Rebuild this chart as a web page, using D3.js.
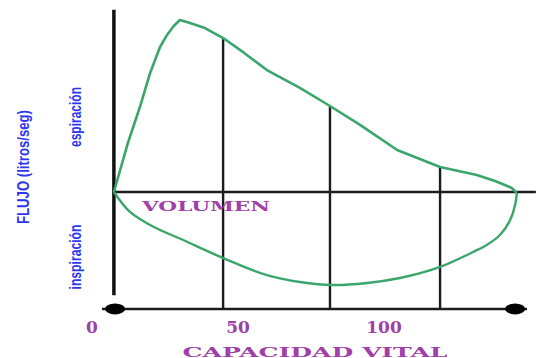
<!DOCTYPE html>
<html><head><meta charset="utf-8">
<script src="https://cdn.jsdelivr.net/npm/d3@7"></script>
<style>body{margin:0;background:#fff}svg{display:block}</style>
</head><body>
<svg id="c" width="538" height="358"></svg>
<script>
// Data (volume in % vital capacity units, flow in arbitrary units)
const expiracionX = [7.5, 12.3, 16.4, 19.9, 23.3, 25.7, 28.0, 30.1, 32.5, 38.7, 44.9, 52.0, 59.9, 71.2, 81.5, 91.8, 104.5, 119.2, 131.8, 138.0, 141.4, 143.8, 145.5];
const expiracionY = [0, 2.85, 4.94, 6.92, 8.43, 9.13, 9.65, 10.0, 9.88, 9.53, 8.95, 8.1, 7.09, 6.05, 5.00, 3.90, 2.44, 1.45, 0.99, 0.64, 0.41, 0.23, -0.06];
const inspiracionX = [145.5, 144.9, 143.2, 139.7, 134.6, 130.5, 119.2, 105.5, 94.2, 82.5, 71.2, 59.9, 44.9, 31.2, 19.9, 13.0, 7.5];
const inspiracionY = [-0.06, -0.76, -1.63, -2.50, -3.14, -3.49, -4.36, -5.0, -5.29, -5.41, -5.23, -4.83, -3.84, -2.79, -1.92, -1.16, 0];
const gridX = [44.9, 81.5, 119.2];
const gridTop = [8.95, 5.00, 1.45];
const tickValues = [0, 50, 100];
const tickLabels = ["0", "50", "100"];
const xTitle = "CAPACIDAD VITAL";
const volLabel = "VOLUMEN";
const yTitle = "FLUJO (litros/seg)";
const upperLabel = "espiración";
const lowerLabel = "inspiración";

const svg = d3.select("#c");
const x = d3.scaleLinear().domain([0, 100]).range([92, 384]);
const y = d3.scaleLinear().domain([0, 10]).range([192, 20]);
const axisX = 7.5, bottomY = -6.8;

const ink = "#1c1c1c";
// grid verticals
svg.selectAll("line.grid").data(gridX).join("line")
  .attr("x1", d => x(d)).attr("x2", d => x(d))
  .attr("y1", (d, i) => y(gridTop[i])).attr("y2", y(bottomY))
  .attr("stroke", ink).attr("stroke-width", 2.4);
// center horizontal axis
svg.append("line").attr("x1", x(axisX)).attr("x2", x(152)).attr("y1", y(0)).attr("y2", y(0))
  .attr("stroke", ink).attr("stroke-width", 2.4);
// bottom axis
svg.append("line").attr("x1", x(3.4)).attr("x2", x(149)).attr("y1", y(bottomY)).attr("y2", y(bottomY))
  .attr("stroke", ink).attr("stroke-width", 2.4);
svg.selectAll("ellipse.end").data([7.9, 144.9]).join("ellipse")
  .attr("cx", d => x(d)).attr("cy", y(bottomY)).attr("rx", 10).attr("ry", 5.5).attr("fill", "#000");
// vertical axis
svg.append("line").attr("x1", x(axisX)).attr("x2", x(axisX)).attr("y1", y(10.6)).attr("y2", y(-6.0))
  .attr("stroke", "#111").attr("stroke-width", 3.5);

// curve
const exp = expiracionX.map((v, i) => [v, expiracionY[i]]);
const insp = inspiracionX.map((v, i) => [v, inspiracionY[i]]);
const lineExp = d3.line().x(d => x(d[0])).y(d => y(d[1])).curve(d3.curveLinear);
svg.append("path").attr("d", lineExp(exp)).attr("fill", "none").attr("stroke", "#3aa66c").attr("stroke-width", 2.6).attr("stroke-linejoin", "round");
svg.append("path").attr("d", d3.line().x(d => x(d[0])).y(d => y(d[1])).curve(d3.curveCatmullRom.alpha(1))(insp))
  .attr("fill", "none").attr("stroke", "#3aa66c").attr("stroke-width", 2.4).attr("stroke-linejoin", "round");

// purple labels
const purple = "#a040a8";
svg.selectAll("text.tick").data(tickValues).join("text")
  .attr("x", d => x(d)).attr("y", 327).attr("text-anchor", "middle").attr("dominant-baseline", "central")
  .attr("font-family", "DejaVu Serif").attr("font-weight", "bold").attr("font-size", 17)
  .attr("fill", purple).text((d, i) => tickLabels[i]);
svg.append("text").attr("x", 315).attr("y", 352).attr("text-anchor", "middle").attr("dominant-baseline", "central")
  .attr("font-family", "DejaVu Serif").attr("font-weight", "bold").attr("font-size", 13)
  .attr("textLength", 265).attr("lengthAdjust", "spacingAndGlyphs")
  .attr("fill", purple).text(xTitle);
svg.append("text").attr("x", 206).attr("y", 207).attr("text-anchor", "middle").attr("dominant-baseline", "central")
  .attr("font-family", "DejaVu Serif").attr("font-weight", "bold").attr("font-size", 12)
  .attr("textLength", 128).attr("lengthAdjust", "spacingAndGlyphs")
  .attr("fill", purple).text(volLabel);

// blue rotated labels
const blue = "#2e36f0";
function vtext(cx, cy, len, size, t) {
  svg.append("text").attr("transform", `translate(${cx},${cy}) rotate(-90)`)
    .attr("text-anchor", "middle").attr("dominant-baseline", "central")
    .attr("font-family", "Liberation Sans Narrow, Liberation Sans, sans-serif").attr("font-weight", "bold")
    .attr("font-size", size).attr("textLength", len).attr("lengthAdjust", "spacingAndGlyphs")
    .attr("fill", blue).text(t);
}
vtext(23, 167, 114, 17, yTitle);
vtext(75, 117, 60, 17, upperLabel);
vtext(75, 257, 65, 17, lowerLabel);
</script>
</body></html>
